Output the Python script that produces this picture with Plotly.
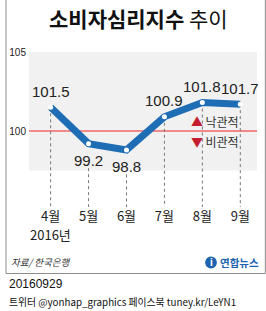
import plotly.graph_objects as go

months = ["4월", "5월", "6월", "7월", "8월", "9월"]
year_label = "2016년"
values = [101.5, 99.2, 98.8, 100.9, 101.8, 101.7]
label_pos = ["above", "below", "below", "above", "above", "above"]
y_ticks = [100, 105]
ref_value = 100
band_top = [105, 102.5]
band_bottom = [100, 97.5]

W, H = 266, 311
L, R, T, B = 24, 257, 52, 207
Y_MIN, Y_MAX = 95.19, 105

def px(x):
    return (x - L) / (R - L)

def py(y):
    return (B - y) / (B - T)

FONT = "Liberation Sans, Noto Sans CJK KR, sans-serif"
KFONT = "Noto Sans CJK KR, sans-serif"
BLUE = "#1f6db5"
RED = "#c41e2e"

fig = go.Figure()

# dotted guides: from the point (or under a below-label) down to the axis bottom
gx, gy = [], []
for m, v, p in zip(months, values, label_pos):
    start = v if p == "above" else v - 1.55
    gx += [m, m, None]
    gy += [start, Y_MIN, None]
fig.add_trace(go.Scatter(x=gx, y=gy, mode="lines",
                         line=dict(color="#777777", width=1, dash="dot"),
                         hoverinfo="skip", showlegend=False))

fig.add_trace(go.Scatter(x=months, y=values, mode="lines+markers",
                         line=dict(color=BLUE, width=7),
                         marker=dict(color="white", size=5),
                         hoverinfo="skip", showlegend=False))

shapes = []
# background bands
for t, b in zip(band_top, band_bottom):
    shapes.append(dict(type="rect", xref="paper", yref="y", x0=0, x1=1, y0=b, y1=t,
                       fillcolor="#f1f1f1", line=dict(width=0), layer="below"))
# reference line
shapes.append(dict(type="line", xref="paper", yref="y", x0=0, x1=1, y0=ref_value, y1=ref_value,
                   line=dict(color="#f08a8a", width=2), layer="below"))
# frame
frame = "#8c8c8c"
shapes.append(dict(type="line", xref="paper", yref="paper", x0=px(0.5), x1=px(0.5), y0=py(0), y1=py(273.5),
                   line=dict(color=frame, width=1)))
shapes.append(dict(type="line", xref="paper", yref="paper", x0=px(265.5), x1=px(265.5), y0=py(0), y1=py(273.5),
                   line=dict(color=frame, width=1)))
shapes.append(dict(type="line", xref="paper", yref="paper", x0=px(0.5), x1=px(265.5), y0=py(273.5), y1=py(273.5),
                   line=dict(color=frame, width=1)))
# logo mark
shapes.append(dict(type="circle", xref="paper", yref="paper", x0=px(204), x1=px(216), y0=py(256.5), y1=py(268.5),
                   fillcolor="#1d63b0", line=dict(width=0)))

annotations = []
for m, v, p in zip(months, values, label_pos):
    annotations.append(dict(x=m, y=v, xref="x", yref="y", text=f"{v:.1f}",
                            showarrow=False,
                            yshift=16 if p == "above" else -17,
                            font=dict(family=FONT, size=15, color="#222222")))

annotations += [
    dict(x=months[0], y=py(234), xref="x", yref="paper", text=year_label,
         showarrow=False, xanchor="center", yanchor="middle",
         font=dict(family=KFONT, size=13, color="#222222")),
    dict(x=px(136), y=py(18), xref="paper", yref="paper", text="<b>소비자심리지수</b> 추이",
         showarrow=False, xanchor="center", yanchor="middle",
         font=dict(family=KFONT, size=21, color="#111111")),
    dict(x=px(187), y=py(121), xref="paper", yref="paper",
         text=f"<span style='color:{RED}'>▲</span>&#8201;낙관적", showarrow=False,
         xanchor="left", yanchor="middle", font=dict(family=KFONT, size=12, color="#333333")),
    dict(x=px(187), y=py(141), xref="paper", yref="paper",
         text=f"<span style='color:{RED}'>▼</span>&#8201;비관적", showarrow=False,
         xanchor="left", yanchor="middle", font=dict(family=KFONT, size=12, color="#333333")),
    dict(x=px(4), y=py(262), xref="paper", yref="paper", text="<i>자료/ 한국은행</i>",
         showarrow=False, xanchor="left", yanchor="middle",
         font=dict(family=KFONT, size=9.5, color="#333333")),
    dict(x=px(210), y=py(262.5), xref="paper", yref="paper", text="<b>i</b>",
         showarrow=False, xanchor="center", yanchor="middle",
         font=dict(family=FONT, size=10, color="white")),
    dict(x=px(217), y=py(262), xref="paper", yref="paper", text="<b>연합뉴스</b>",
         showarrow=False, xanchor="left", yanchor="middle",
         font=dict(family=KFONT, size=10.5, color="#1d63b0")),
    dict(x=px(2), y=py(284), xref="paper", yref="paper", text="20160929",
         showarrow=False, xanchor="left", yanchor="middle",
         font=dict(family=FONT, size=12, color="#111111")),
    dict(x=px(2), y=py(302), xref="paper", yref="paper",
         text="트위터 @yonhap_graphics 페이스북 tuney.kr/LeYN1",
         showarrow=False, xanchor="left", yanchor="middle",
         font=dict(family=KFONT, size=9.8, color="#111111")),
]

fig.update_layout(
    width=W, height=H, autosize=False,
    margin=dict(l=L, r=W - R, t=T, b=H - B, pad=0),
    paper_bgcolor="white", plot_bgcolor="white",
    shapes=shapes, annotations=annotations, showlegend=False,
    xaxis=dict(type="category", range=[-0.57, 5.44], tickmode="array",
               tickvals=months, ticktext=months, showgrid=False, zeroline=False,
               showline=False, ticks="", tickfont=dict(family=KFONT, size=13, color="#222222")),
    yaxis=dict(range=[Y_MIN, Y_MAX], tickmode="array", tickvals=y_ticks,
               ticktext=[str(t) for t in y_ticks], showgrid=False, zeroline=False,
               showline=False, ticks="", ticklabelstandoff=2,
               tickfont=dict(family=FONT, size=10, color="#222222")),
)

fig.write_html("out.html")
